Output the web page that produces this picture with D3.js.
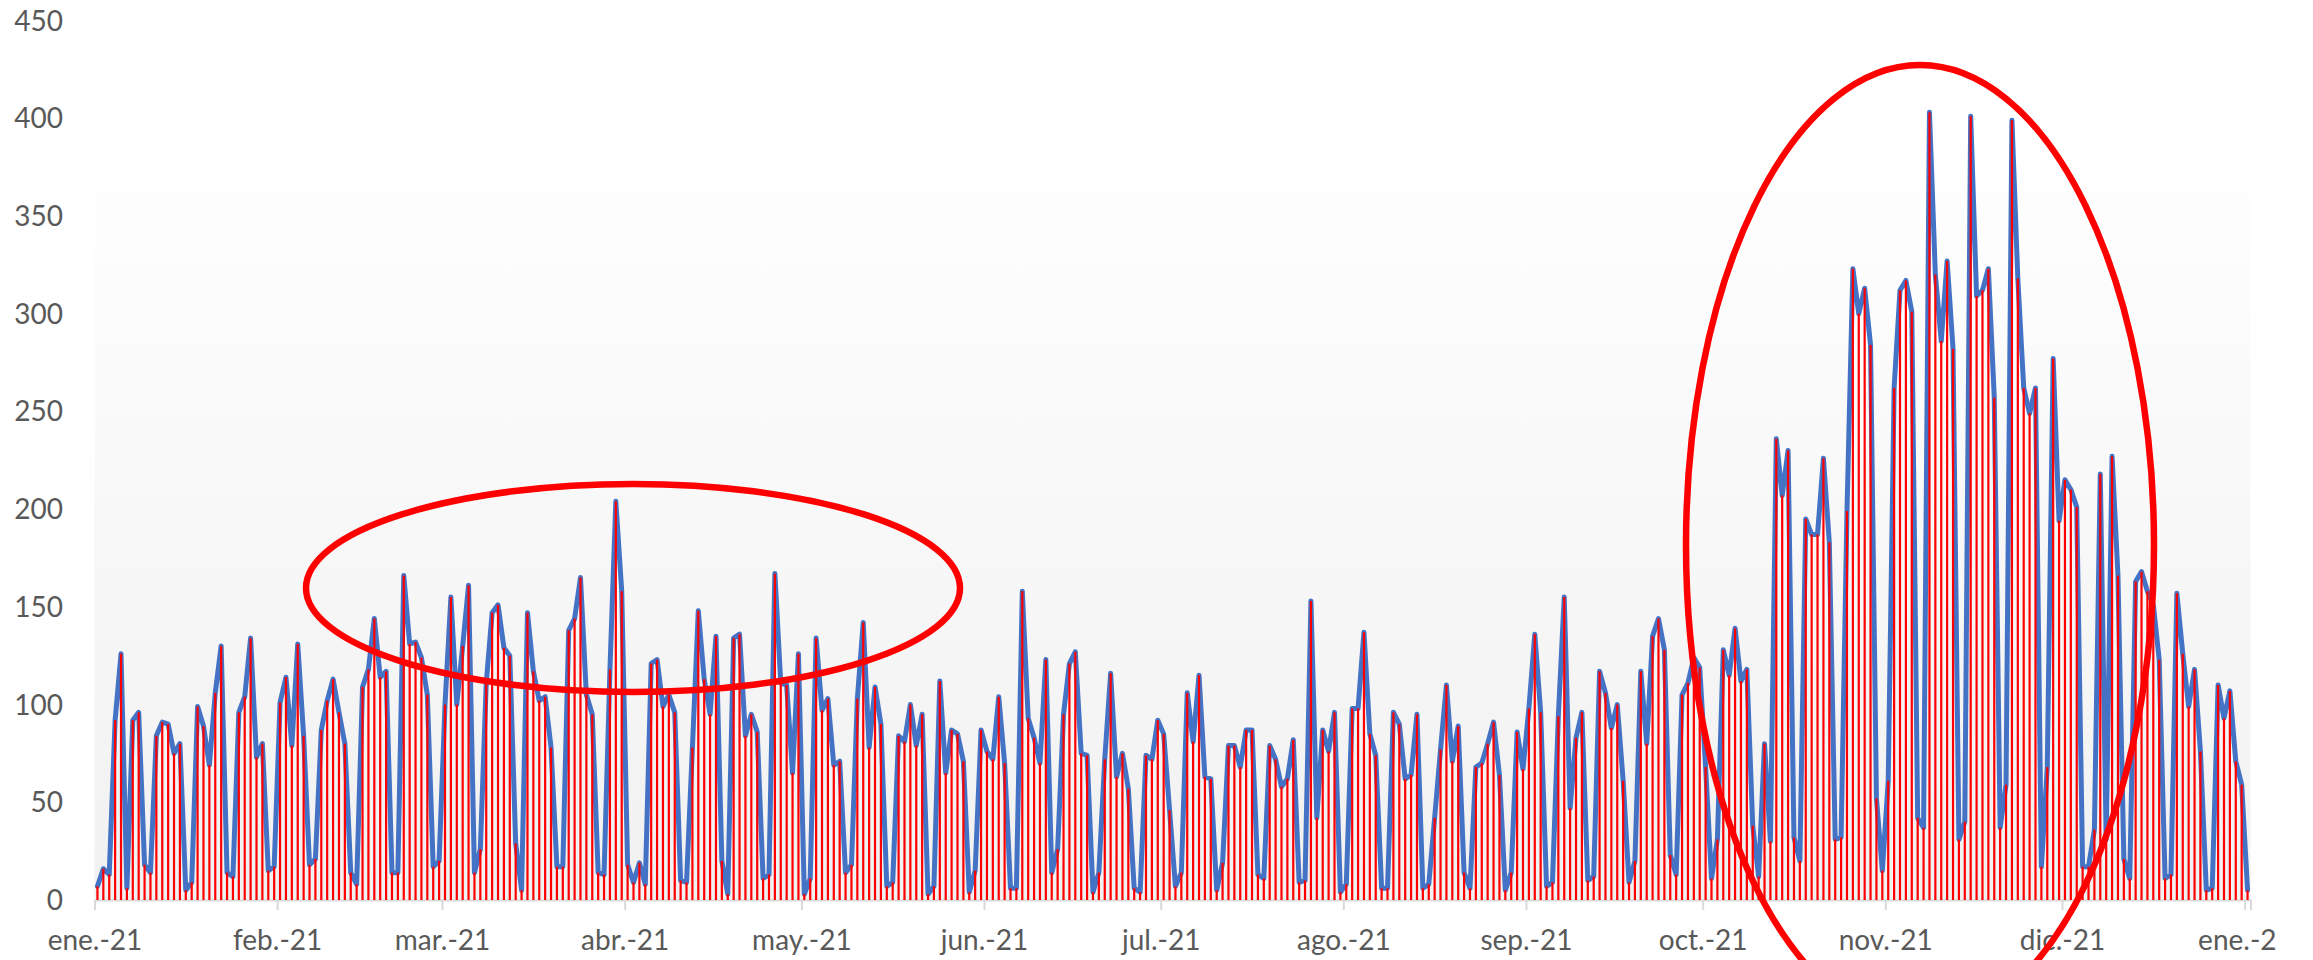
<!DOCTYPE html>
<html lang="es">
<head>
  <meta charset="UTF-8">
  <title>Serie diaria 2021</title>
  <script src="https://d3js.org/d3.v7.min.js"></script>
  <style>
    body {
      margin: 0;
      background: #ffffff;
      overflow: hidden;
    }
    #chart {
      width: 2313px;
      height: 960px;
      overflow: hidden;
    }
    .tick-label {
      font-family: Lato, "Open Sans", sans-serif;
      font-size: 28px;
      fill: #595959;
    }
  </style>
</head>
<body>
  <div id="chart"></div>

  <script>
    // daily values, one array per month
    const ene = [7, 16, 13, 92, 126, 6, 92, 96, 18, 14, 84, 91, 90, 75, 80, 5, 9, 99, 89, 69, 106, 130, 14, 12, 96, 104, 134, 73, 80, 15, 17];
    const feb = [101, 114, 79, 131, 84, 18, 21, 87, 102, 113, 96, 80, 14, 8, 109, 118, 144, 114, 117, 14, 14, 166, 131, 132, 124, 105, 17, 20];
    const mar = [100, 155, 100, 130, 161, 14, 26, 111, 147, 151, 129, 125, 29, 5, 147, 117, 102, 104, 78, 17, 17, 138, 144, 165, 105, 95, 14, 13, 118, 204, 158];
    const abr = [18, 9, 19, 8, 121, 123, 99, 105, 96, 10, 9, 78, 148, 113, 95, 135, 20, 3, 134, 136, 84, 95, 86, 11, 13, 167, 111, 110, 65, 126];
    const may = [3, 11, 134, 97, 103, 69, 71, 14, 18, 103, 142, 78, 109, 90, 7, 9, 84, 81, 100, 79, 95, 3, 7, 112, 65, 87, 85, 71, 4, 15, 87];
    const jun = [76, 72, 104, 70, 6, 6, 158, 93, 83, 70, 123, 14, 26, 95, 121, 127, 75, 74, 4, 14, 72, 116, 63, 75, 57, 6, 4, 74, 72, 92];
    const jul = [85, 46, 7, 14, 106, 81, 115, 63, 62, 5, 19, 79, 79, 68, 87, 87, 13, 11, 79, 72, 58, 62, 82, 9, 10, 153, 42, 87, 76, 96, 4];
    const ago = [8, 98, 98, 137, 85, 74, 6, 6, 96, 90, 62, 64, 95, 6, 8, 42, 77, 110, 71, 89, 14, 6, 68, 70, 80, 91, 64, 5, 14, 86, 67];
    const sep = [98, 136, 96, 7, 9, 94, 155, 47, 83, 96, 10, 12, 117, 106, 88, 100, 61, 9, 20, 117, 80, 135, 144, 128, 23, 13, 105, 111, 124, 119];
    const oct = [68, 11, 31, 128, 115, 139, 112, 118, 38, 12, 80, 30, 236, 207, 230, 32, 20, 195, 187, 187, 226, 183, 31, 32, 199, 323, 300, 313, 284, 52, 15];
    const nov = [61, 262, 312, 317, 301, 42, 37, 403, 320, 286, 327, 282, 31, 40, 401, 309, 312, 323, 257, 37, 59, 399, 318, 262, 249, 262, 17, 68, 277, 194];
    const dic = [215, 210, 201, 17, 17, 36, 218, 31, 227, 166, 21, 11, 163, 168, 158, 151, 123, 11, 13, 157, 126, 99, 118, 76, 5, 6, 110, 93, 107, 71, 59];
    const ene22 = [5];

    // axis labels (the last one is cut short in the original)
    const monthLabels = ["ene.-21", "feb.-21", "mar.-21", "abr.-21", "may.-21", "jun.-21", "jul.-21",
                         "ago.-21", "sep.-21", "oct.-21", "nov.-21", "dic.-21", "ene.-2"];
    const yTicks = [0, 50, 100, 150, 200, 250, 300, 350, 400, 450];

    const width = 2313;
    const height = 960;

    const start = new Date(Date.UTC(2021, 0, 1));
    const end = new Date(Date.UTC(2022, 0, 2));

    const values = [].concat(ene, feb, mar, abr, may, jun, jul, ago, sep, oct, nov, dic, ene22);
    const data = values.map((v, i) => ({ date: d3.utcDay.offset(start, i), value: v }));

    const x = d3.scaleUtc().domain([start, end]).range([94.5, 2250.5]);
    const y = d3.scaleLinear().domain([0, 450]).range([900, 20.5]);
    const dayW = x(d3.utcDay.offset(start, 1)) - x(start);
    const cx = d => x(d.date) + dayW / 2;

    const svg = d3.select("#chart").append("svg")
      .attr("width", width)
      .attr("height", height);

    // plot area with soft vertical gradient
    const grad = svg.append("defs").append("linearGradient")
      .attr("id", "plotBg")
      .attr("x1", 0).attr("y1", 0).attr("x2", 0).attr("y2", 1);
    grad.append("stop").attr("offset", "0%").attr("stop-color", "#ffffff");
    grad.append("stop").attr("offset", "100%").attr("stop-color", "#f1f1f1");

    svg.append("rect")
      .attr("x", x(start))
      .attr("y", y(392))
      .attr("width", x(end) - x(start))
      .attr("height", y(0) - y(392))
      .attr("fill", "url(#plotBg)");

    // y labels (no axis line)
    svg.append("g")
      .selectAll("text")
      .data(yTicks)
      .join("text")
      .attr("class", "tick-label")
      .attr("x", 63)
      .attr("y", d => y(d))
      .attr("dy", "0.36em")
      .attr("text-anchor", "end")
      .text(d => d);

    // x axis
    const monthTicks = d3.utcMonth.range(start, end);
    const xAxis = d3.axisBottom(x)
      .tickValues(monthTicks)
      .tickSize(10)
      .tickFormat((d, i) => monthLabels[i]);

    const gx = svg.append("g")
      .attr("transform", `translate(0,${y(0)})`)
      .call(xAxis);
    gx.select(".domain").attr("stroke", "#d9d9d9").attr("stroke-width", 2);
    gx.selectAll(".tick line").attr("stroke", "#d9d9d9").attr("stroke-width", 2);
    gx.selectAll(".tick text")
      .attr("class", "tick-label")
      .attr("y", 50)
      .attr("dy", 0);
    // the cut label starts where the full one would
    gx.selectAll(".tick text")
      .filter((d, i) => i === monthLabels.length - 1)
      .attr("text-anchor", "start")
      .attr("x", -47);

    // blue line under the bars
    const line = d3.line()
      .x(cx)
      .y(d => y(d.value));

    svg.append("path")
      .datum(data)
      .attr("fill", "none")
      .attr("stroke", "#4472c4")
      .attr("stroke-width", 5)
      .attr("stroke-linejoin", "round")
      .attr("stroke-linecap", "round")
      .attr("d", line);

    // thin red bars, one per day
    const barW = 2.2;
    svg.append("g")
      .selectAll("rect")
      .data(data)
      .join("rect")
      .attr("x", d => cx(d) - barW / 2)
      .attr("y", d => y(d.value))
      .attr("width", barW)
      .attr("height", d => y(0) - y(d.value))
      .attr("fill", "#ff0000");

    // hand-drawn highlight ellipses
    svg.append("ellipse")
      .attr("cx", 633).attr("cy", 588)
      .attr("rx", 327).attr("ry", 104)
      .attr("fill", "none")
      .attr("stroke", "#ff0000")
      .attr("stroke-width", 6.5);

    svg.append("ellipse")
      .attr("cx", 1920).attr("cy", 545)
      .attr("rx", 234).attr("ry", 480)
      .attr("fill", "none")
      .attr("stroke", "#ff0000")
      .attr("stroke-width", 6.5);
  </script>
</body>
</html>
